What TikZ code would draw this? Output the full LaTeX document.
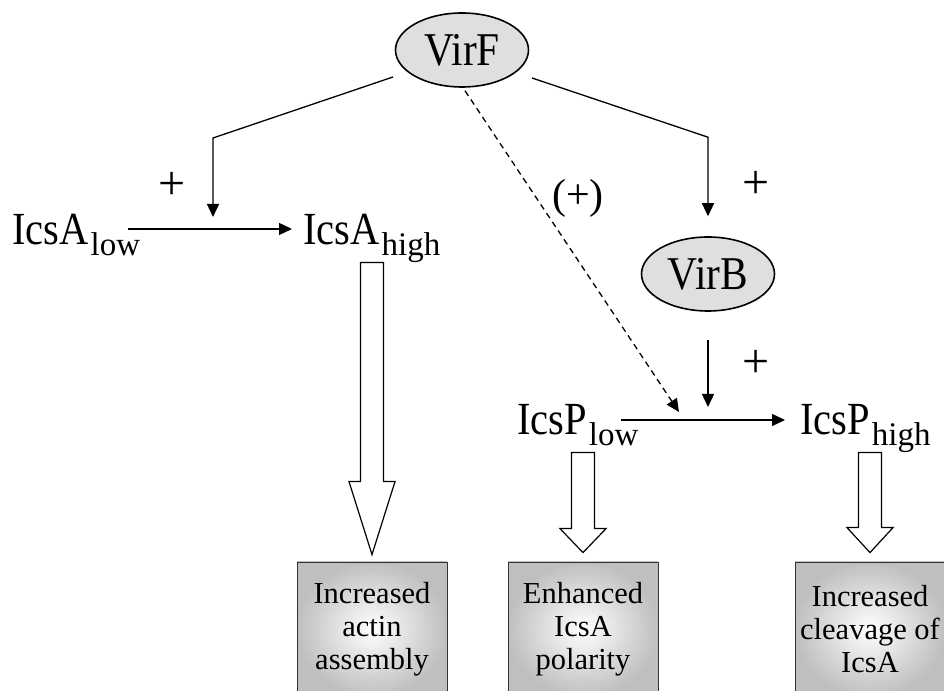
\documentclass[tikz,border=0pt]{standalone}
\usepackage{fontspec}
\setmainfont{Liberation Serif}
\newfontfamily\labfont[FakeStretch=0.88]{Liberation Serif}
\usetikzlibrary{arrows.meta,shapes.geometric,calc,positioning}
\newcommand{\lvl}[2]{#1\hspace{2pt}\raisebox{-11pt}{\rmfamily\fontsize{33}{33}\selectfont #2}}
\newcommand{\fatarrow}[3]{% tip, length, head length
    \draw[hollow] (#1) -- ++(-23,#3) -- ++(11.5,0) -- ++(0,{#2-#3}) -- ++(23,0) -- ++(0,{#3-#2}) -- ++(11.5,0) -- cycle;}
\tikzset{
    gene/.style = {anchor=base west, inner sep=0,
        font=\labfont\fontsize{46}{50}\selectfont},
    reg/.style = {draw, ellipse, line width=1.6pt, fill=gray!25,
        minimum width=133pt, minimum height=74pt, inner sep=0,
        font=\labfont\fontsize{47}{50}\selectfont},
    effect/.style = {draw=black!80, rectangle, line width=0.8pt,
        inner color=white, outer color=gray!50,
        minimum width=150pt, minimum height=134pt, align=center, inner sep=0,
        font=\fontsize{30.5}{33}\selectfont},
    sign/.style = {inner sep=0, font=\fontsize{48}{50}\selectfont},
    arr/.style = {draw, line width=1.3pt, -{Triangle[length=13pt,width=12pt]}},
    hollow/.style = {draw, line width=1.2pt, fill=white, line join=miter}
}
\begin{document}
\begin{tikzpicture}[x=1pt,y=1pt]
    \useasboundingbox (0,0) rectangle (944,690);
    % regulators
    \node [reg] (virf) at (462,640) {VirF};
    \node [reg] (virb) at (708,416) {VirB};
    % icsA and icsP levels
    \node [gene] (alow) at (12,445) {\lvl{IcsA}{low}};
    \node [gene] (ahigh) at (303,445) {\lvl{IcsA}{high}};
    \node [gene] (plow) at (517,255) {\lvl{IcsP}{low}};
    \node [gene] (phigh) at (800,255) {\lvl{IcsP}{high}};
    % outcomes
    \node [effect] (actin) at (372,61) {Increased\\actin\\assembly};
    \node [effect] (polar) at (583,61) {Enhanced\\IcsA\\polarity};
    \node [effect] (cleave) at (870,61) {Increased\\cleavage of\\IcsA};
    \coordinate (acat) at (213,473);
    \coordinate (pcat) at (708,283);
    \coordinate (pdash) at (679,278);
    \draw[arr] ($(alow.base east)+(-12,16)$) -- ($(ahigh.base west)+(-11,16)$);
    \draw[arr] ($(plow.base east)+(-18,15)$) -- ($(phigh.base west)+(-15,15)$);
    \draw[arr] ($(virf.center)+(-69,-27)$) -- ([yshift=79pt]acat) -- (acat);
    \draw[arr] ($(virf.center)+(70,-28)$) -- ([yshift=99pt]virb.north) -- ([yshift=20pt]virb.north);
    \draw[arr] ([yshift=-28pt]virb.south) -- (pcat);
    \draw[arr, dash pattern=on 6pt off 4.5pt] ($(virf.south)+(3,-3)$) -- (pdash);
    \node [sign] (plusa) at (172,504) {+};
    \node [sign] (plusb) at (756,505) {+};
    \node [sign] (plusc) at (756,326) {+};
    \node [sign, font=\fontsize{42}{44}\selectfont] (plusd) at (578,492) {(+)};
    % hollow arrows
    \fatarrow{[yshift=7pt]actin.north}{292}{73}
    \fatarrow{[yshift=9pt]polar.north}{100}{24}
    \fatarrow{[yshift=9pt]cleave.north}{100}{25}
\end{tikzpicture}
\end{document}
